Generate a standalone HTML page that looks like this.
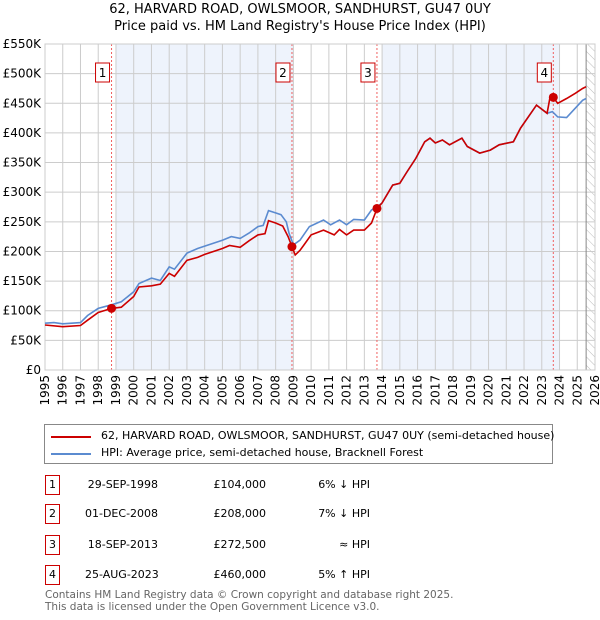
<!DOCTYPE html>
<html><head><meta charset="utf-8"><style>
body{margin:0;background:#fff;font-family:"DejaVu Sans","Liberation Sans",sans-serif;}
#wrap{position:relative;width:600px;height:620px;overflow:hidden;}
.t{position:absolute;font-size:11px;color:#000;white-space:nowrap}
.badge{position:absolute;border:1px solid #c00;width:13px;height:18px;text-align:center;line-height:18px;font-size:11px}
</style></head><body><div id="wrap">
<svg id="chart" width="600" height="420" style="position:absolute;left:0;top:0"></svg>
<div style="position:absolute;left:44px;top:424px;width:507px;height:38px;border:1px solid #888;font-size:11px;white-space:nowrap">
 <div style="position:absolute;left:6px;top:11px;width:40px;height:2px;background:#c00"></div>
 <div style="position:absolute;left:56px;top:4px">62, HARVARD ROAD, OWLSMOOR, SANDHURST, GU47 0UY (semi-detached house)</div>
 <div style="position:absolute;left:6px;top:28px;width:40px;height:2px;background:#5b8bd0"></div>
 <div style="position:absolute;left:56px;top:21px">HPI: Average price, semi-detached house, Bracknell Forest</div>
</div>
<div id="rows"></div>
<div class="t" style="left:45px;top:590px;color:#666;font-size:10.5px;line-height:11.5px">Contains HM Land Registry data © Crown copyright and database right 2025.<br>This data is licensed under the Open Government Licence v3.0.</div>
</div>
<script>
const NS="http://www.w3.org/2000/svg";
const hpiYears=[1995,1995.5,1996,1997,1997.4,1998,1998.75,1999.3,2000,2000.3,2001,2001.5,2002,2002.3,2003,2003.6,2004,2005,2005.5,2006,2006.5,2007,2007.3,2007.6,2008,2008.3,2008.6,2008.75,2009.0,2009.37,2009.9,2010.7,2011.1,2011.6,2012,2012.4,2013,2013.4,2013.71,2014,2014.6,2015,2015.4,2015.9,2016.4,2016.7,2017,2017.4,2017.8,2018.5,2018.8,2019.5,2020.1,2020.6,2021.4,2021.8,2022.7,2023.3,2023.6,2023.9,2024.4,2025.3,2025.5];
const hpiValues=[79,80,78,80,92,104,110,115,132,146,155,151,174,170,197,205,209,219,225,222,231,242,244,269,265,262,250,231,211,219,242,253,245,253,245,254,253,270,275,282,312,315,334,357,385,391,383,388,380,391,377,366,371,380,385,408,447,433,436,427,426,455,458];
const priceYears=[1995,1996,1997,1997.4,1998,1998.75,1999.3,2000,2000.3,2001,2001.5,2002,2002.3,2003,2003.6,2004,2005,2005.4,2006,2006.5,2007,2007.4,2007.6,2008,2008.4,2008.7,2008.92,2009.1,2009.37,2009.6,2010,2010.7,2011.3,2011.6,2012,2012.4,2013,2013.4,2013.71,2014,2014.6,2015,2015.4,2015.9,2016.4,2016.7,2017,2017.4,2017.8,2018.5,2018.8,2019.5,2020.1,2020.6,2021.4,2021.8,2022.7,2023.3,2023.47,2023.65,2023.9,2024.4,2024.9,2025.3,2025.5];
const priceValues=[76,73,75,84,97,104,106,124,140,142,145,163,158,185,190,195,205,210,207,218,228,230,252,248,243,225,208,194,202,211,228,236,228,237,228,236,236,248,272.5,282,312,315,334,357,385,391,383,388,380,391,377,366,371,380,385,408,447,433,461,460,450,458,467,475,478];
const saleYears=[1998.75,2008.92,2013.71,2023.65];
const saleValues=[104,208,272.5,460];
const saleLabels=["1","2","3","4"];
const yTicks=[0,50,100,150,200,250,300,350,400,450,500,550];
const xTicks=[];for(let y=1995;y<=2026;y++)xTicks.push(y);
const X0=45,X1=595,Y0=370,Y1=44;
const xs=y=>X0+(y-1995)/31*(X1-X0);
const ys=v=>Y0-v/550*(Y0-Y1);
const svg=document.getElementById('chart');
function el(t,a,p){const e=document.createElementNS(NS,t);for(const k in a)e.setAttribute(k,a[k]);(p||svg).appendChild(e);return e;}
let e;
e=el('text',{x:300,y:13,'text-anchor':'middle','font-size':13,'font-family':'DejaVu Sans,sans-serif'});e.textContent="62, HARVARD ROAD, OWLSMOOR, SANDHURST, GU47 0UY";


e=el('text',{x:300,y:30,'text-anchor':'middle','font-size':13,'font-family':'DejaVu Sans,sans-serif'});e.textContent="Price paid vs. HM Land Registry's House Price Index (HPI)";


[[1999,2009],[2014,2024]].forEach(b=>{e=el('rect',{x:xs(b[0]),y:Y1,width:xs(b[1])-xs(b[0]),height:Y0-Y1,fill:'#eef3fc'});

});
const defs=el('defs',{});const pat=el('pattern',{id:'h',width:6,height:6,patternUnits:'userSpaceOnUse',patternTransform:'rotate(-45)'},defs);el('line',{x1:0,y1:0,x2:0,y2:6,stroke:'#bbb','stroke-width':1},pat);
e=el('rect',{x:xs(2025.5),y:Y1,width:X1-xs(2025.5),height:Y0-Y1,fill:'url(#h)'});


xTicks.forEach(t=>{e=el('line',{x1:xs(t),x2:xs(t),y1:Y1,y2:Y0,stroke:'#ccc'});


e=el('text',{transform:`translate(${xs(t)+4},${Y0+5}) rotate(-90)`,'text-anchor':'end','font-size':12,'font-family':'DejaVu Sans,sans-serif'});e.textContent=t;

});
yTicks.forEach(t=>{e=el('line',{x1:X0,x2:X1,y1:ys(t),y2:ys(t),stroke:'#ccc'});


e=el('text',{x:X0-4,y:ys(t)+4,'text-anchor':'end','font-size':12,'font-family':'DejaVu Sans,sans-serif'});e.textContent=t===0?'£0':'£'+t+'K';

});
e=el('line',{x1:xs(2025.5),x2:xs(2025.5),y1:Y1,y2:Y0,stroke:'#888'});


saleYears.forEach((y,i)=>{e=el('line',{x1:xs(y),x2:xs(y),y1:Y1,y2:Y0,stroke:'#f06060','stroke-dasharray':'2,2'});


const g=el('g',{});


el('rect',{x:xs(y)-16,y:63,width:14,height:19,fill:'#fff',stroke:'#c00'},g);
const tt=el('text',{x:xs(y)-9,y:77,'text-anchor':'middle','font-size':12,'font-family':'DejaVu Sans,sans-serif'},g);tt.textContent=saleLabels[i];});
e=el('rect',{x:X0,y:Y1,width:X1-X0,height:Y0-Y1,fill:'none',stroke:'#ccc'});
function line(xa,va,c,name){e=el('polyline',{points:xa.map((x,i)=>xs(x).toFixed(1)+','+ys(va[i]).toFixed(1)).join(' '),fill:'none',stroke:c,'stroke-width':1.6});

}
line(hpiYears,hpiValues,'#5b8bd0','hpi-line');
line(priceYears,priceValues,'#cc0000','price-line');
saleYears.forEach((y,i)=>{e=el('circle',{cx:xs(y),cy:ys(saleValues[i]),r:4.5,fill:'#cc0000'});

});
const rows=[["1","29-SEP-1998","£104,000","6% ↓ HPI"],["2","01-DEC-2008","£208,000","7% ↓ HPI"],["3","18-SEP-2013","£272,500","≈ HPI"],["4","25-AUG-2023","£460,000","5% ↑ HPI"]];
const rt=[475,504,535,565];const R=document.getElementById('rows');
rows.forEach((r,i)=>{const d=document.createElement('div');


d.innerHTML=`<div class="badge" style="left:45px;top:${rt[i]}px">${r[0]}</div><div class="t" style="left:85px;width:73px;text-align:right;top:${rt[i]+3}px">${r[1]}</div><div class="t" style="left:200px;width:66px;text-align:right;top:${rt[i]+3}px">${r[2]}</div><div class="t" style="left:300px;width:70px;text-align:right;top:${rt[i]+3}px">${r[3]}</div>`;
R.appendChild(d);});
</script></body></html>
